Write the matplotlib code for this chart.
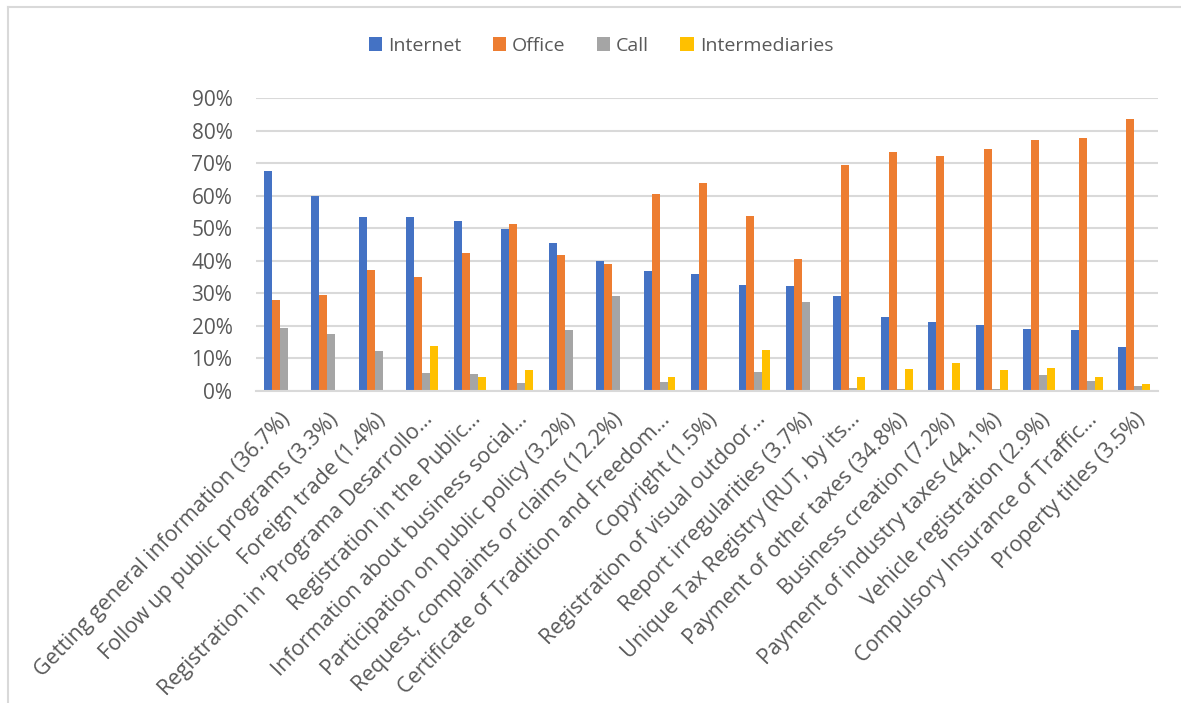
import matplotlib.pyplot as plt
import matplotlib.ticker as mticker
from matplotlib.lines import Line2D
import numpy as np

plt.rcParams['font.family'] = ['Open Sans', 'DejaVu Sans']

categories = [
    'Getting general information (36.7%)',
    'Follow up public programs (3.3%)',
    'Foreign trade (1.4%)',
    'Registration in \u201cPrograma Desarrollo\u2026',
    'Registration in the Public\u2026',
    'Information about business social\u2026',
    'Participation on public policy (3.2%)',
    'Request, complaints or claims (12.2%)',
    'Certificate of Tradition and Freedom\u2026',
    'Copyright (1.5%)',
    'Registration of visual outdoor\u2026',
    'Report irregularities (3.7%)',
    'Unique Tax Registry (RUT, by its\u2026',
    'Payment of other taxes (34.8%)',
    'Business creation (7.2%)',
    'Payment of industry taxes (44.1%)',
    'Vehicle registration (2.9%)',
    'Compulsory Insurance of Traffic\u2026',
    'Property titles (3.5%)',
]

internet = [67.5, 60.0, 53.5, 53.3, 52.1, 49.9, 45.6, 40.0, 37.0, 35.9,
            32.6, 32.3, 29.1, 22.8, 21.3, 20.3, 19.1, 18.6, 13.4]
office = [27.9, 29.6, 37.3, 35.1, 42.5, 51.2, 41.9, 38.9, 60.4, 63.8,
          53.9, 40.6, 69.5, 73.3, 72.1, 74.2, 77.0, 77.8, 83.6]
call = [19.4, 17.6, 12.4, 5.5, 5.2, 2.5, 18.8, 29.3, 2.7, 0.0,
        5.9, 27.4, 0.9, 0.6, 0.3, 0.6, 5.0, 3.2, 1.5]
intermediaries = [0.0, 0.0, 0.0, 13.7, 4.3, 6.3, 0.0, 0.0, 4.3, 0.0,
                  12.7, 0.0, 4.3, 6.7, 8.7, 6.5, 7.1, 4.2, 2.3]

series = [
    ('Internet', internet, '#4472C4'),
    ('Office', office, '#ED7D31'),
    ('Call', call, '#A5A5A5'),
    ('Intermediaries', intermediaries, '#FFC000'),
]

fig = plt.figure(figsize=(11.81, 7.03), dpi=100)
ax = fig.add_axes([256 / 1181, 1 - 391 / 703, (1158 - 256) / 1181, (391 - 98) / 703])

x = np.arange(len(categories))
w = 0.168
for i, (name, vals, color) in enumerate(series):
    ax.bar(x + (i - 1.5) * w, np.array(vals) / 100, width=w, color=color,
           label=name, zorder=2)

ax.set_xlim(-0.5, len(categories) - 0.5)
ax.set_ylim(0, 0.9)
ax.set_yticks(np.arange(0, 0.91, 0.1))
ax.yaxis.set_major_formatter(mticker.PercentFormatter(1.0, decimals=0))
ax.grid(axis='y', color='#D9D9D9', linewidth=1.5, zorder=0)
ax.set_axisbelow(True)
for side in ['top', 'right', 'left']:
    ax.spines[side].set_visible(False)
ax.spines['bottom'].set_color('#D9D9D9')
ax.spines['bottom'].set_linewidth(1.5)
ax.tick_params(axis='both', length=0, colors='#595959', labelsize=15)
ax.tick_params(axis='y', pad=17)

ax.set_xticks(x)
ax.set_xticklabels(categories, rotation=46, ha='right', va='top',
                   rotation_mode='anchor', fontsize=15.5, color='#595959')
ax.tick_params(axis='x', pad=13)

leg = fig.legend(loc='center', bbox_to_anchor=(601 / 1181, 1 - 46 / 703), ncol=4,
                 frameon=False, fontsize=14, handlelength=0.7, handleheight=0.7,
                 handletextpad=0.3, columnspacing=1.6)
for t in leg.get_texts():
    t.set_color('#595959')

# chart area border (top and left edges visible)
fig.add_artist(Line2D([8 / 1181, 8 / 1181], [0, 1 - 7 / 703], color='#D9D9D9', linewidth=1.5))
fig.add_artist(Line2D([8 / 1181, 1], [1 - 7 / 703, 1 - 7 / 703], color='#D9D9D9', linewidth=1.5))

fig.savefig('out.png', dpi=100, facecolor='white')
